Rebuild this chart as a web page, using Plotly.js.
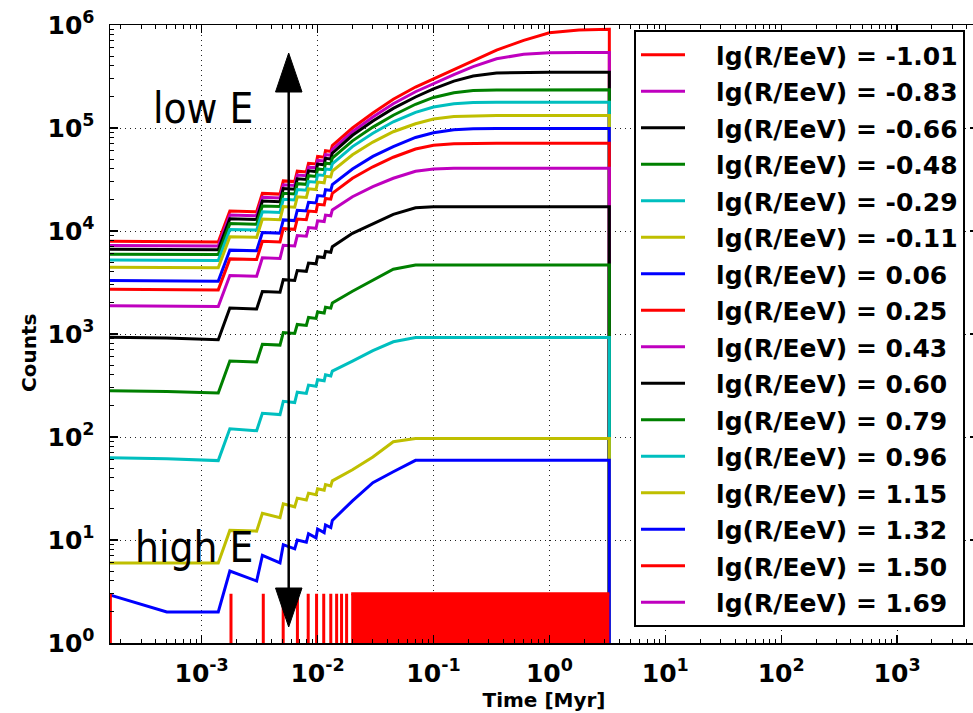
<!DOCTYPE html>
<html><head><meta charset="utf-8">
<script src="https://cdn.plot.ly/plotly-3.0.1.min.js"></script>
<style>html,body{margin:0;padding:0;overflow:hidden;background:#fff}</style>
</head><body>
<div id="chart" style="width:985px;height:713px"></div>
<script>
// shared sampling times [Myr]
const times = [1.5e-4, 5.0e-4, 1.39e-3, 1.75e-3, 2.98e-3, 3.34e-3, 4.74e-3, 5.06e-3, 6.35e-3, 6.68e-3,
  8.0e-3, 8.35e-3, 9.7e-3, 1.0e-2, 1.14e-2, 1.17e-2, 1.3e-2, 1.34e-2,
  2.0e-2, 3.0e-2, 4.5e-2, 7.0e-2, 0.1, 0.15, 0.22, 0.35, 0.6, 1.0, 1.8, 3.29, 3.29];

const rigidity = ['-1.01','-0.83','-0.66','-0.48','-0.29','-0.11','0.06','0.25','0.43','0.60','0.79','0.96','1.15','1.32','1.50','1.69'];
const colors = ['#ff0000','#bf00bf','#000000','#008000','#00bfbf','#bfbf00','#0000ff','#ff0000','#bf00bf','#000000','#008000','#00bfbf','#bfbf00','#0000ff','#ff0000','#bf00bf'];

const countsM101 = [7950,7900,7800,15600,15370,23170,22820,30650,30190,38060,37490,45470,44790,52880,52090,60220,59310,67470,1.0e5,1.4e5,1.9e5,2.5e5,3.0e5,3.7e5,4.5e5,5.7e5,7.1e5,8.4e5,8.95e5,9.1e5,0.01];
const countsM083 = [7250,7220,7150,14300,14090,21240,20920,28100,27680,34890,34370,41680,41060,48480,47750,55200,54370,61850,9.2e4,1.28e5,1.72e5,2.25e5,2.7e5,3.3e5,3.95e5,4.7e5,5.2e5,5.38e5,5.42e5,5.42e5,0.01];
const countsM066 = [6650,6620,6580,13160,12960,19540,19250,25860,25470,32110,31630,38360,37790,44610,43940,50800,50030,56920,8.5e4,1.17e5,1.55e5,2.0e5,2.4e5,2.85e5,3.2e5,3.42e5,3.48e5,3.48e5,3.48e5,3.48e5,0.01];
const countsM048 = [5950,5930,5900,11800,11620,17520,17260,23190,22840,28790,28360,34400,33880,40000,39400,45550,44860,51040,7.5e4,1.02e5,1.33e5,1.7e5,1.98e5,2.2e5,2.31e5,2.34e5,2.35e5,2.35e5,2.35e5,2.35e5,0.01];
const countsM029 = [5230,5210,5180,10360,10200,15380,15150,20360,20050,25280,24900,30200,29750,35120,34590,39990,39390,44810,6.6e4,8.9e4,1.15e5,1.42e5,1.6e5,1.72e5,1.77e5,1.78e5,1.78e5,1.78e5,1.78e5,1.78e5,0.01];
const countsM011 = [4450,4430,4400,8800,8670,13070,12870,17290,17030,21470,21150,25650,25270,29830,29380,33970,33460,38060,5.5e4,7.3e4,9.2e4,1.1e5,1.22e5,1.29e5,1.31e5,1.32e5,1.32e5,1.32e5,1.32e5,1.32e5,0.01];
const countsP006 = [3300,3280,3260,6520,6420,9680,9540,12810,12620,15910,15670,19010,18720,22100,21770,25170,24790,28200,4.0e4,5.3e4,6.6e4,8.1e4,9.0e4,9.6e4,9.85e4,9.9e4,9.9e4,9.9e4,9.9e4,9.9e4,0.01];
const countsP025 = [2720,2700,2680,5360,5280,7960,7840,10530,10370,13080,12880,15620,15390,18170,17900,20690,20380,23180,3.25e4,4.2e4,5.2e4,6.25e4,6.8e4,7.05e4,7.1e4,7.1e4,7.1e4,7.1e4,7.1e4,7.1e4,0.01];
const countsP043 = [1880,1870,1850,3700,3640,5490,5410,7270,7160,9030,8890,10790,10620,12540,12350,14280,14070,16000,2.15e4,2.7e4,3.25e4,3.8e4,4.0e4,4.06e4,4.06e4,4.06e4,4.06e4,4.06e4,4.06e4,4.06e4,0.01];
const countsP060 = [930,915,880,1786,1750,2587,2540,3370,3310,4136,4060,4884,4800,5632,5530,6336,6220,7040,9.5e3,1.18e4,1.45e4,1.68e4,1.72e4,1.72e4,1.72e4,1.72e4,1.72e4,1.72e4,1.72e4,1.72e4,0.01];
const countsP079 = [282,277,268,547,535,796,780,1034,1012,1238,1212,1447,1416,1635,1600,1822,1783,1997,2600,3300,4250,4670,4670,4670,4670,4670,4670,4670,4670,4670,0.01];
const countsP096 = [63,61.5,59,120,115,170,165,222,216,272,265,319,311,360,351,401,391,437,545,690,840,925,925,925,925,925,925,925,925,925,0.01];
const countsP115 = [5.97,5.97,5.97,12.4,12.2,18.2,16.5,22.5,21,25.5,24.5,28.5,27.5,31.5,30.5,34.5,33.5,37.5,48,64,90,96.5,96.5,96.5,96.5,96.5,96.5,96.5,96.5,96.5,0.01];
const countsP132 = [3.0,2.0,2.0,5.0,4.0,7.1,6.0,9.0,8.2,10.0,9.5,11.5,10.5,12.8,11.8,14.0,13.2,15.5,24,36,46,59.4,59.4,59.4,59.4,59.4,59.4,59.4,59.4,59.4,0.01];

// lg(R/EeV)=1.50: isolated single-count spikes, then a dense comb
const spikeTimesP150 = [1.63e-4, 1.79e-3, 3.4e-3, 5.05e-3, 6.7e-3, 8.3e-3, 9.8e-3, 1.13e-2, 1.3e-2, 1.46e-2, 1.61e-2, 1.78e-2];
const spikeHeightP150 = 3;
const denseCombP150 = [1.95e-2, 3.29];
const zeroLevel = 0.01;
// lg(R/EeV)=1.69: no counts
const timesP169 = [1.5e-4, 3.29];
const countsP169 = [0.01, 0.01];

const mainSeries = [countsM101,countsM083,countsM066,countsM048,countsM029,countsM011,countsP006,countsP025,countsP043,countsP060,countsP079,countsP096,countsP115,countsP132];

const FONT = 'DejaVu Sans, Liberation Sans, sans-serif';
const NARROW = 'Liberation Sans Narrow, DejaVu Sans Condensed, Liberation Sans, sans-serif';
const LW = 3;
const PAD = '\u00a0\u00a0\u00a0';
const traces = [];
mainSeries.forEach((ys, i) => {
  traces.push({x: times, y: ys, type: 'scatter', mode: 'lines', name: PAD + 'lg(R/EeV) = ' + rigidity[i],
    legendgroup: 'g' + i, line: {color: colors[i], width: LW}});
});
// 1.50
const sx = [], sy = [];
spikeTimesP150.forEach(t => { sx.push(t, t, t); sy.push(zeroLevel, spikeHeightP150, zeroLevel); });
traces.push({x: sx, y: sy, type: 'scatter', mode: 'lines', name: PAD + 'lg(R/EeV) = ' + rigidity[14],
  legendgroup: 'g14', line: {color: colors[14], width: LW}});
traces.push({x: denseCombP150, y: [spikeHeightP150, spikeHeightP150], type: 'scatter', mode: 'lines',
  fill: 'tozeroy', fillcolor: colors[14], showlegend: false, legendgroup: 'g14',
  line: {color: colors[14], width: LW}});
// 1.69
traces.push({x: timesP169, y: countsP169, type: 'scatter', mode: 'lines', name: PAD + 'lg(R/EeV) = ' + rigidity[15],
  legendgroup: 'g15', line: {color: colors[15], width: LW}});

// geometry helpers (pixel -> paper)
const W = 985, H = 713, ML = 110, MR = 7, MT = 25, MB = 70;
const PW = W - ML - MR, PH = H - MT - MB;
const px = v => (v - ML) / PW;
const py = v => (H - MB - v) / PH;

const majorX = [1e-3, 1e-2, 1e-1, 1, 10, 100, 1000];
const majorXText = ['10<sup>-3</sup>','10<sup>-2</sup>','10<sup>-1</sup>','10<sup>0</sup>','10<sup>1</sup>','10<sup>2</sup>','10<sup>3</sup>'];
const majorY = [1, 10, 100, 1e3, 1e4, 1e5, 1e6];
const majorYText = ['10<sup>0</sup>','10<sup>1</sup>','10<sup>2</sup>','10<sup>3</sup>','10<sup>4</sup>','10<sup>5</sup>','10<sup>6</sup>'];
const minorX = [], minorY = [];
for (let e = -4; e <= 3; e++) for (let d = 2; d <= 9; d++) minorX.push(d * Math.pow(10, e));
for (let e = 0; e <= 5; e++) for (let d = 2; d <= 9; d++) minorY.push(d * Math.pow(10, e));

const tickFont = {family: FONT, size: 25, color: '#000', weight: 'bold'};
const axisCommon = {
  type: 'log', showline: true, linecolor: '#000', linewidth: 1.5, mirror: 'allticks',
  ticks: 'inside', ticklen: 8, tickwidth: 1.2, tickcolor: '#000', tickmode: 'array',
  showgrid: true, gridcolor: '#222', gridwidth: 1, griddash: '1px,4px', zeroline: false,
  tickfont: tickFont
};

const layout = {
  width: W, height: H,
  margin: {l: ML, r: MR, t: MT, b: MB, pad: 0},
  paper_bgcolor: '#fff', plot_bgcolor: '#fff',
  showlegend: true,
  xaxis: Object.assign({}, axisCommon, {
    range: [-3.791, 3.698], tickvals: majorX, ticktext: majorXText, ticklabelstandoff: 7,
    minor: {ticks: 'inside', ticklen: 4, tickwidth: 1, tickcolor: '#000', tickmode: 'array', tickvals: minorX, showgrid: false},
    title: {text: 'Time [Myr]', font: {family: FONT, size: 20, color: '#000', weight: 'bold'}, standoff: 0}
  }),
  yaxis: Object.assign({}, axisCommon, {
    range: [0, 6], tickvals: majorY, ticktext: majorYText, ticklabelstandoff: 9,
    minor: {ticks: 'inside', ticklen: 4, tickwidth: 1, tickcolor: '#000', tickmode: 'array', tickvals: minorY, showgrid: false}
  }),
  legend: {
    x: px(634), y: py(30), xanchor: 'left', yanchor: 'top',
    bgcolor: '#fff', bordercolor: '#000', borderwidth: 2,
    font: {family: FONT, size: 25, color: '#000', weight: 'bold'},
    tracegroupgap: 1, itemwidth: 44, traceorder: 'grouped'
  },
  annotations: [
    {text: 'Counts', xref: 'paper', yref: 'paper', x: px(29), y: py(353), textangle: -90, showarrow: false,
     xanchor: 'center', yanchor: 'middle', font: {family: FONT, size: 20, color: '#000', weight: 'bold'}},
    {text: 'low E', xref: 'paper', yref: 'paper', x: px(255), y: py(108), showarrow: false,
     xanchor: 'right', yanchor: 'middle', font: {family: NARROW, size: 42, color: '#000'}},
    {text: 'high E', xref: 'paper', yref: 'paper', x: px(255), y: py(547), showarrow: false,
     xanchor: 'right', yanchor: 'middle', font: {family: NARROW, size: 42, color: '#000'}}
  ],
  shapes: [
    {type: 'line', xref: 'paper', yref: 'paper', x0: px(288.7), x1: px(288.7), y0: py(85), y1: py(595), line: {color: '#000', width: 2.5}},
    {type: 'path', xref: 'paper', yref: 'paper', fillcolor: '#000', line: {color: '#000', width: 1},
     path: `M ${px(288.7)} ${py(53)} L ${px(275.5)} ${py(92)} L ${px(302)} ${py(92)} Z`},
    {type: 'path', xref: 'paper', yref: 'paper', fillcolor: '#000', line: {color: '#000', width: 1},
     path: `M ${px(288.7)} ${py(627)} L ${px(275.5)} ${py(588)} L ${px(302)} ${py(588)} Z`}
  ]
};

Plotly.newPlot('chart', traces, layout, {displayModeBar: false, staticPlot: true});
</script>
</body></html>
